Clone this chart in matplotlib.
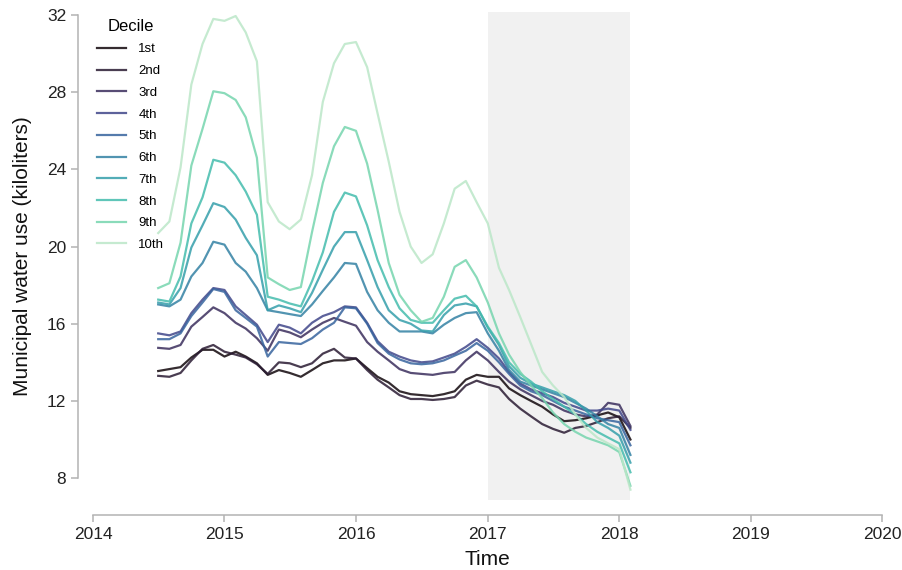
import numpy as np
import pandas as pd
import matplotlib
matplotlib.use("Agg")
import matplotlib.pyplot as plt
import matplotlib.dates as mdates
import seaborn as sns

plt.rcParams['font.family'] = ['Liberation Sans', 'DejaVu Sans']

months = pd.date_range("2014-07-01", periods=44, freq="MS")
labels = ["1st", "2nd", "3rd", "4th", "5th", "6th", "7th", "8th", "9th", "10th"]

# monthly use per decile (kiloliters)
d1 = [13.55, 13.65, 13.75, 14.25, 14.65, 14.65, 14.3, 14.55, 14.3, 13.95, 13.35, 13.6, 13.45, 13.25, 13.6,
      13.95, 14.1, 14.1, 14.2, 13.7, 13.25, 12.95, 12.5, 12.35, 12.3, 12.25, 12.35, 12.5, 13.1, 13.35,
      13.25, 13.25, 12.65, 12.3, 12.0, 11.7, 11.3, 10.95, 11.0, 11.1, 11.25, 11.4, 11.15, 10.0]
d2 = [13.3, 13.25, 13.45, 14.1, 14.7, 14.9, 14.55, 14.4, 14.25, 13.9, 13.4, 14.0, 13.95, 13.75, 13.95,
      14.45, 14.7, 14.25, 14.2, 13.6, 13.1, 12.7, 12.3, 12.1, 12.1, 12.05, 12.1, 12.2, 12.8, 13.05,
      12.85, 12.7, 12.1, 11.6, 11.2, 10.8, 10.55, 10.35, 10.6, 10.7, 10.9, 11.1, 11.2, 10.6]
d3 = [14.75, 14.7, 14.9, 15.85, 16.35, 16.85, 16.55, 16.05, 15.75, 15.25, 14.6, 15.7, 15.55, 15.3, 15.7,
      16.05, 16.3, 16.1, 15.9, 15.05, 14.55, 14.1, 13.65, 13.45, 13.4, 13.35, 13.45, 13.5, 14.1, 14.55,
      14.1, 13.5, 13.0, 12.6, 12.3, 12.0, 11.8, 11.5, 11.3, 11.2, 11.3, 11.9, 11.8, 10.7]
d4 = [15.5, 15.4, 15.6, 16.55, 17.25, 17.85, 17.75, 16.9, 16.45, 15.95, 15.05, 15.95, 15.8, 15.5, 16.05,
      16.4, 16.6, 16.9, 16.85, 16.05, 15.1, 14.55, 14.3, 14.1, 14.0, 14.05, 14.25, 14.45, 14.8, 15.2,
      14.75, 14.2, 13.5, 12.9, 12.6, 12.4, 12.2, 11.9, 11.7, 11.5, 11.5, 11.6, 11.5, 10.5]
d5 = [15.2, 15.2, 15.5, 16.4, 17.1, 17.8, 17.65, 16.7, 16.3, 15.85, 14.3, 15.05, 15.0, 14.95, 15.25,
      15.7, 16.05, 16.85, 16.8, 16.0, 15.0, 14.45, 14.15, 13.95, 13.9, 13.95, 14.1, 14.35, 14.6, 15.0,
      14.6, 14.0, 13.4, 12.8, 12.5, 12.3, 12.0, 11.7, 11.5, 11.3, 11.1, 11.0, 10.9, 9.7]
d6 = [17.0, 16.9, 17.25, 18.45, 19.15, 20.25, 20.1, 19.15, 18.7, 17.85, 16.7, 16.6, 16.5, 16.4, 17.0,
      17.7, 18.4, 19.15, 19.1, 17.65, 16.7, 16.05, 15.6, 15.6, 15.6, 15.5, 15.95, 16.3, 16.55, 16.6,
      15.5, 14.6, 13.6, 13.0, 12.8, 12.6, 12.4, 12.2, 11.9, 11.6, 11.2, 10.8, 10.6, 9.2]
d7 = [17.1, 17.0, 17.85, 19.95, 21.1, 22.25, 22.05, 21.4, 20.45, 19.55, 16.7, 16.95, 16.8, 16.6, 17.6,
      18.8, 20.0, 20.75, 20.75, 19.3, 17.9, 16.7, 16.2, 16.0, 15.65, 15.6, 16.45, 16.95, 17.05, 16.9,
      15.8, 14.9, 13.8, 13.2, 12.9, 12.7, 12.5, 12.3, 12.0, 11.5, 10.9, 10.6, 10.2, 8.8]
d8 = [17.25, 17.15, 18.45, 21.2, 22.55, 24.5, 24.35, 23.7, 22.85, 21.65, 17.4, 17.25, 17.05, 16.9, 18.2,
      19.7, 21.8, 22.8, 22.6, 21.1, 19.3, 17.9, 16.8, 16.2, 16.05, 16.05, 16.7, 17.3, 17.45, 16.9,
      15.85, 15.0, 14.0, 13.4, 13.0, 12.5, 12.1, 11.7, 11.3, 10.8, 10.4, 10.1, 9.8, 8.3]
d9 = [17.85, 18.1, 20.2, 24.2, 26.1, 28.05, 27.95, 27.6, 26.7, 24.6, 18.4, 18.05, 17.75, 17.9, 20.75,
      23.3, 25.2, 26.2, 26.0, 24.3, 21.9, 19.15, 17.5, 16.7, 16.1, 16.3, 17.4, 18.95, 19.3, 18.4,
      17.1, 15.5, 14.4, 13.5, 12.8, 12.15, 11.4, 10.8, 10.4, 10.1, 9.9, 9.7, 9.35, 7.6]
d10 = [20.7, 21.3, 24.1, 28.4, 30.5, 31.8, 31.7, 31.95, 31.1, 29.6, 22.3, 21.3, 20.9, 21.4, 23.7,
       27.5, 29.5, 30.5, 30.6, 29.3, 26.9, 24.4, 21.8, 20.0, 19.15, 19.6, 21.2, 23.0, 23.4, 22.3,
       21.2, 18.9, 17.75, 16.35, 14.95, 13.5, 12.8, 12.2, 11.3, 10.6, 10.1, 9.8, 9.5, 7.4]
deciles = [d1, d2, d3, d4, d5, d6, d7, d8, d9, d10]

colors = sns.color_palette("mako", as_cmap=True)(np.linspace(0.02, 0.93, 10))

fig = plt.figure(figsize=(9.03, 5.7), dpi=100)
ax = fig.add_axes([0.103, 0.123, 0.874, 0.856])

ax.axvspan(pd.Timestamp("2017-01-01"), months[-1], color="#f1f1f1", lw=0, zorder=0)

for vals, lab, c in zip(deciles, labels, colors):
    ax.plot(months, vals, color=c, lw=1.6, alpha=0.85, label=lab)

ax.set_xlim(pd.Timestamp("2014-01-01"), pd.Timestamp("2020-01-01"))
ax.set_ylim(6.87, 32.16)
ax.set_yticks([8, 12, 16, 20, 24, 28, 32])
ax.xaxis.set_major_locator(mdates.YearLocator())
ax.xaxis.set_major_formatter(mdates.DateFormatter("%Y"))

for s in ["top", "right"]:
    ax.spines[s].set_visible(False)
for s in ["left", "bottom"]:
    ax.spines[s].set_position(("outward", 10.8))
    ax.spines[s].set_color("#b3b3b3")
    ax.spines[s].set_linewidth(1.1)
ax.spines["left"].set_bounds(8, 32)
ax.spines["bottom"].set_bounds(mdates.date2num(pd.Timestamp("2014-01-01")),
                               mdates.date2num(pd.Timestamp("2020-01-01")))
ax.tick_params(colors="#b3b3b3", labelcolor="#222222", labelsize=12.5, length=5, width=1.1)

ax.set_xlabel("Time", fontsize=15, color="#111111", labelpad=6)
ax.set_ylabel("Municipal water use (kiloliters)", fontsize=15, color="#111111", labelpad=11)

leg = ax.legend(title="Decile", loc="upper left", bbox_to_anchor=(-0.002, 0.997), frameon=False,
                fontsize=9.5, title_fontsize=12, handlelength=2.2, handletextpad=0.95,
                labelspacing=0.72, borderaxespad=0.0)

fig.savefig("out.png", dpi=100)
